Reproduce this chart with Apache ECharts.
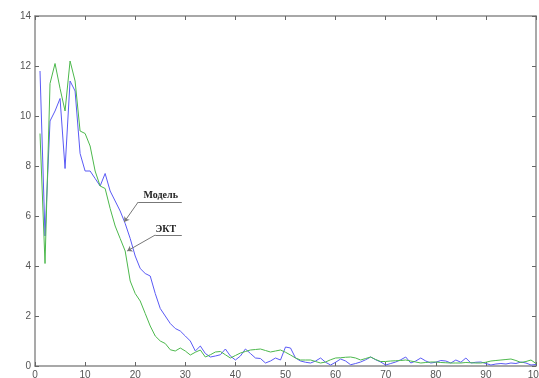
<!DOCTYPE html>
<html>
<head>
<meta charset="utf-8">
<script src="https://cdn.jsdelivr.net/npm/echarts@6/dist/echarts.min.js"></script>
</head>
<body style="margin:0">
<div id="chart" style="width:539px;height:378px;"></div>
<script type="text/javascript">
// x = 1..100
var xVals = [];
for (var i = 1; i <= 100; i++) xVals.push(i);

var model = [11.8,5.2,9.8,10.2,10.7,7.9,11.4,11.0,8.5,7.8,
  7.8,7.5,7.2,7.7,7.0,6.6,6.2,5.7,5.1,4.4,
  3.9,3.7,3.6,2.9,2.3,2.0,1.7,1.5,1.4,1.2,
  1.0,0.6,0.8,0.5,0.36,0.4,0.45,0.68,0.4,0.24,
  0.4,0.68,0.5,0.32,0.3,0.12,0.2,0.32,0.24,0.76,
  0.72,0.32,0.2,0.15,0.12,0.2,0.32,0.15,0.04,0.15,
  0.28,0.2,0.05,0.1,0.16,0.25,0.36,0.25,0.16,0.04,
  0.1,0.16,0.25,0.36,0.12,0.2,0.32,0.2,0.12,0.15,
  0.22,0.2,0.12,0.24,0.15,0.32,0.12,0.15,0.16,0.1,
  0.04,0.08,0.1,0.08,0.12,0.1,0.16,0.12,0.04,0.06];

var ekt = [9.3,4.1,11.3,12.1,11.1,10.2,12.2,11.4,9.4,9.3,
  8.8,7.8,7.2,7.1,6.3,5.6,5.1,4.6,3.4,2.9,
  2.6,2.1,1.6,1.2,1.0,0.9,0.65,0.6,0.72,0.6,
  0.44,0.55,0.64,0.36,0.45,0.56,0.58,0.45,0.32,0.42,
  0.52,0.58,0.64,0.66,0.68,0.62,0.56,0.6,0.64,0.55,
  0.44,0.32,0.24,0.24,0.24,0.18,0.12,0.16,0.25,0.32,
  0.33,0.35,0.36,0.32,0.24,0.3,0.36,0.26,0.18,0.18,
  0.2,0.21,0.22,0.24,0.2,0.16,0.12,0.14,0.16,0.16,
  0.14,0.13,0.12,0.12,0.12,0.14,0.13,0.12,0.12,0.15,
  0.2,0.22,0.24,0.26,0.28,0.22,0.14,0.18,0.24,0.1];

// annotations in data coords: tip, knee, end of underline, text position
var notes = [
  {text: 'Модель', tip: [17.8, 5.76], knee: [20.6, 6.56], end: [29.3, 6.56], at: [25.1, 6.84]},
  {text: 'ЭКТ',    tip: [18.4, 4.6],  knee: [24.0, 5.24], end: [29.3, 5.24], at: [26.1, 5.48]}
];

function pairs(xs, ys) {
  var out = [];
  for (var i = 0; i < xs.length; i++) out.push([xs[i], ys[i]]);
  return out;
}

var axisColor = '#8c8c8c';
var lblStyle = {color: '#555', fontSize: 10, fontFamily: 'Arial, "Liberation Sans"', margin: 4};

var leaderLines = [], leaderLabels = [];
notes.forEach(function (n) {
  leaderLines.push([{coord: n.tip, symbol: 'arrow', symbolSize: 5}, {coord: n.knee, symbol: 'none'}]);
  leaderLines.push([{coord: n.knee, symbol: 'none'}, {coord: n.end, symbol: 'none'}]);
  leaderLabels.push({coord: n.at, value: n.text});
});

function boxAxis(pos, isX) {
  var ax = {
    type: 'value', position: pos,
    axisLine: {show: true, onZero: false, lineStyle: {color: axisColor, width: 1.5}},
    axisTick: {show: true, inside: true, length: 4, lineStyle: {color: '#666'}},
    axisLabel: (pos === 'bottom' || pos === 'left') ? lblStyle : {show: false},
    splitLine: {show: false}
  };
  if (isX) { ax.min = 0; ax.max = 100; ax.interval = 10; }
  else { ax.min = 0; ax.max = 14; ax.interval = 2; }
  return ax;
}

var myChart = echarts.init(document.getElementById('chart'));
var option = {
  animation: false,
  grid: {left: 35, right: 3, top: 16, bottom: 12, containLabel: false, outerBoundsMode: 'none'},
  xAxis: [boxAxis('bottom', true), boxAxis('top', true)],
  yAxis: [boxAxis('left', false), boxAxis('right', false)],
  series: [{
    name: 'Модель', type: 'line', data: pairs(xVals, model),
    showSymbol: false, lineStyle: {color: '#5a5af5', width: 1}, itemStyle: {color: '#5a5af5'},
    markLine: {
      silent: true, symbol: 'none',
      lineStyle: {color: '#777', width: 1, type: 'solid'},
      label: {show: false},
      data: leaderLines
    },
    markPoint: {
      silent: true, symbol: 'circle', symbolSize: 0,
      label: {show: true, formatter: '{c}', color: '#222', fontSize: 10, fontWeight: 'bold',
              fontFamily: '"Liberation Serif", "DejaVu Serif", serif'},
      data: leaderLabels
    }
  }, {
    name: 'ЭКТ', type: 'line', data: pairs(xVals, ekt),
    showSymbol: false, lineStyle: {color: '#4cb84c', width: 1}, itemStyle: {color: '#4cb84c'}
  }]
};
myChart.setOption(option);
</script>
</body>
</html>
